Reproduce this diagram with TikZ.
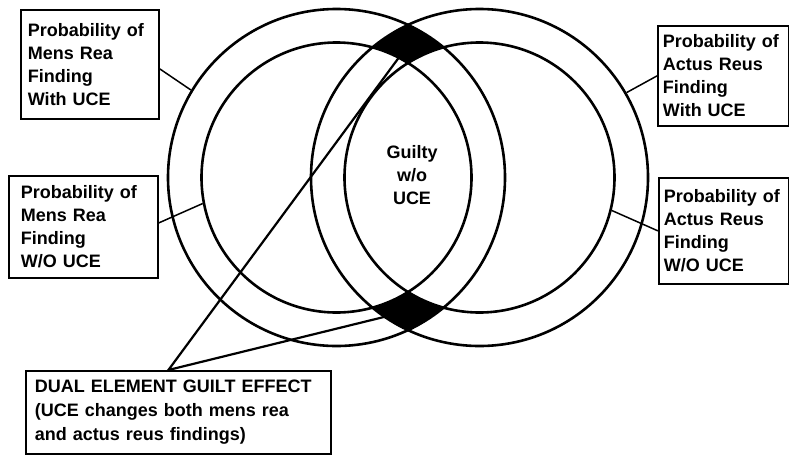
\documentclass[tikz,border=0pt]{standalone}
\usepackage{fontspec}
\setmainfont{Liberation Sans}
\begin{document}
\begin{tikzpicture}[x=1pt,y=-1pt,
  ring/.style={circle,draw,line width=2.6pt,inner sep=0pt},
  note/.style={draw,line width=1.8pt,align=left,anchor=north west,inner ysep=0pt,
    font=\bfseries\fontsize{18}{23}\selectfont},
  lead/.style={line width=1.5pt}]
\useasboundingbox (0,0) rectangle (789,455);
\coordinate (cL) at (336.5,177.5);
\coordinate (cR) at (479.5,177.5);

% the two dark regions
\begin{scope}
\clip (cL) circle (168.5);
\fill (cR) circle (168.5);
\end{scope}
\fill[white] (cL) circle (135) (cR) circle (135);

\node[ring,minimum size=337pt] (outerL) at (cL) {};
\node[ring,minimum size=270pt] (innerL) at (cL) {};
\node[ring,minimum size=337pt] (outerR) at (cR) {};
\node[ring,minimum size=270pt] (innerR) at (cR) {};

\node[align=center,font=\bfseries\fontsize{18}{23}\selectfont] (guilty) at (412,175) {Guilty\\w/o\\UCE};

\node[note,inner xsep=7pt,text width=124pt,minimum height=109pt] (mrWith) at (20,9)
  {Probability of\\Mens Rea\\Finding\\With UCE};
\node[note,inner xsep=5pt,text width=121pt,minimum height=100pt] (arWith) at (657,25)
  {Probability of\\Actus Reus\\Finding\\With UCE};
\node[note,inner xsep=12pt,text width=125pt,minimum height=102pt] (mrWO) at (8,175)
  {Probability of\\Mens Rea\\Finding\\W/O UCE};
\node[note,inner xsep=5pt,text width=120pt,minimum height=106pt] (arWO) at (658,177)
  {Probability of\\Actus Reus\\Finding\\W/O UCE};
\node[note,inner xsep=9pt,text width=287pt,minimum height=83pt,
  font=\bfseries\fontsize{18}{24}\selectfont] (dual) at (25,370)
  {DUAL ELEMENT GUILT EFFECT\\(UCE changes both mens rea\\and actus reus findings)};

\draw[lead] ([yshift=-4.5pt]mrWith.east) -- (outerL.149);
\draw[lead] (arWith.west) -- (outerR.30);
\draw[lead] ([yshift=4pt]mrWO.east) -- (innerL.191);
\draw[lead] (arWO.west) -- (innerR.346);

\coordinate (topD) at (400,56);
\coordinate (botD) at (388,316);
\draw[line width=2.2pt] (topD) -- ([xshift=-10pt]dual.north) -- (botD);
\end{tikzpicture}
\end{document}
